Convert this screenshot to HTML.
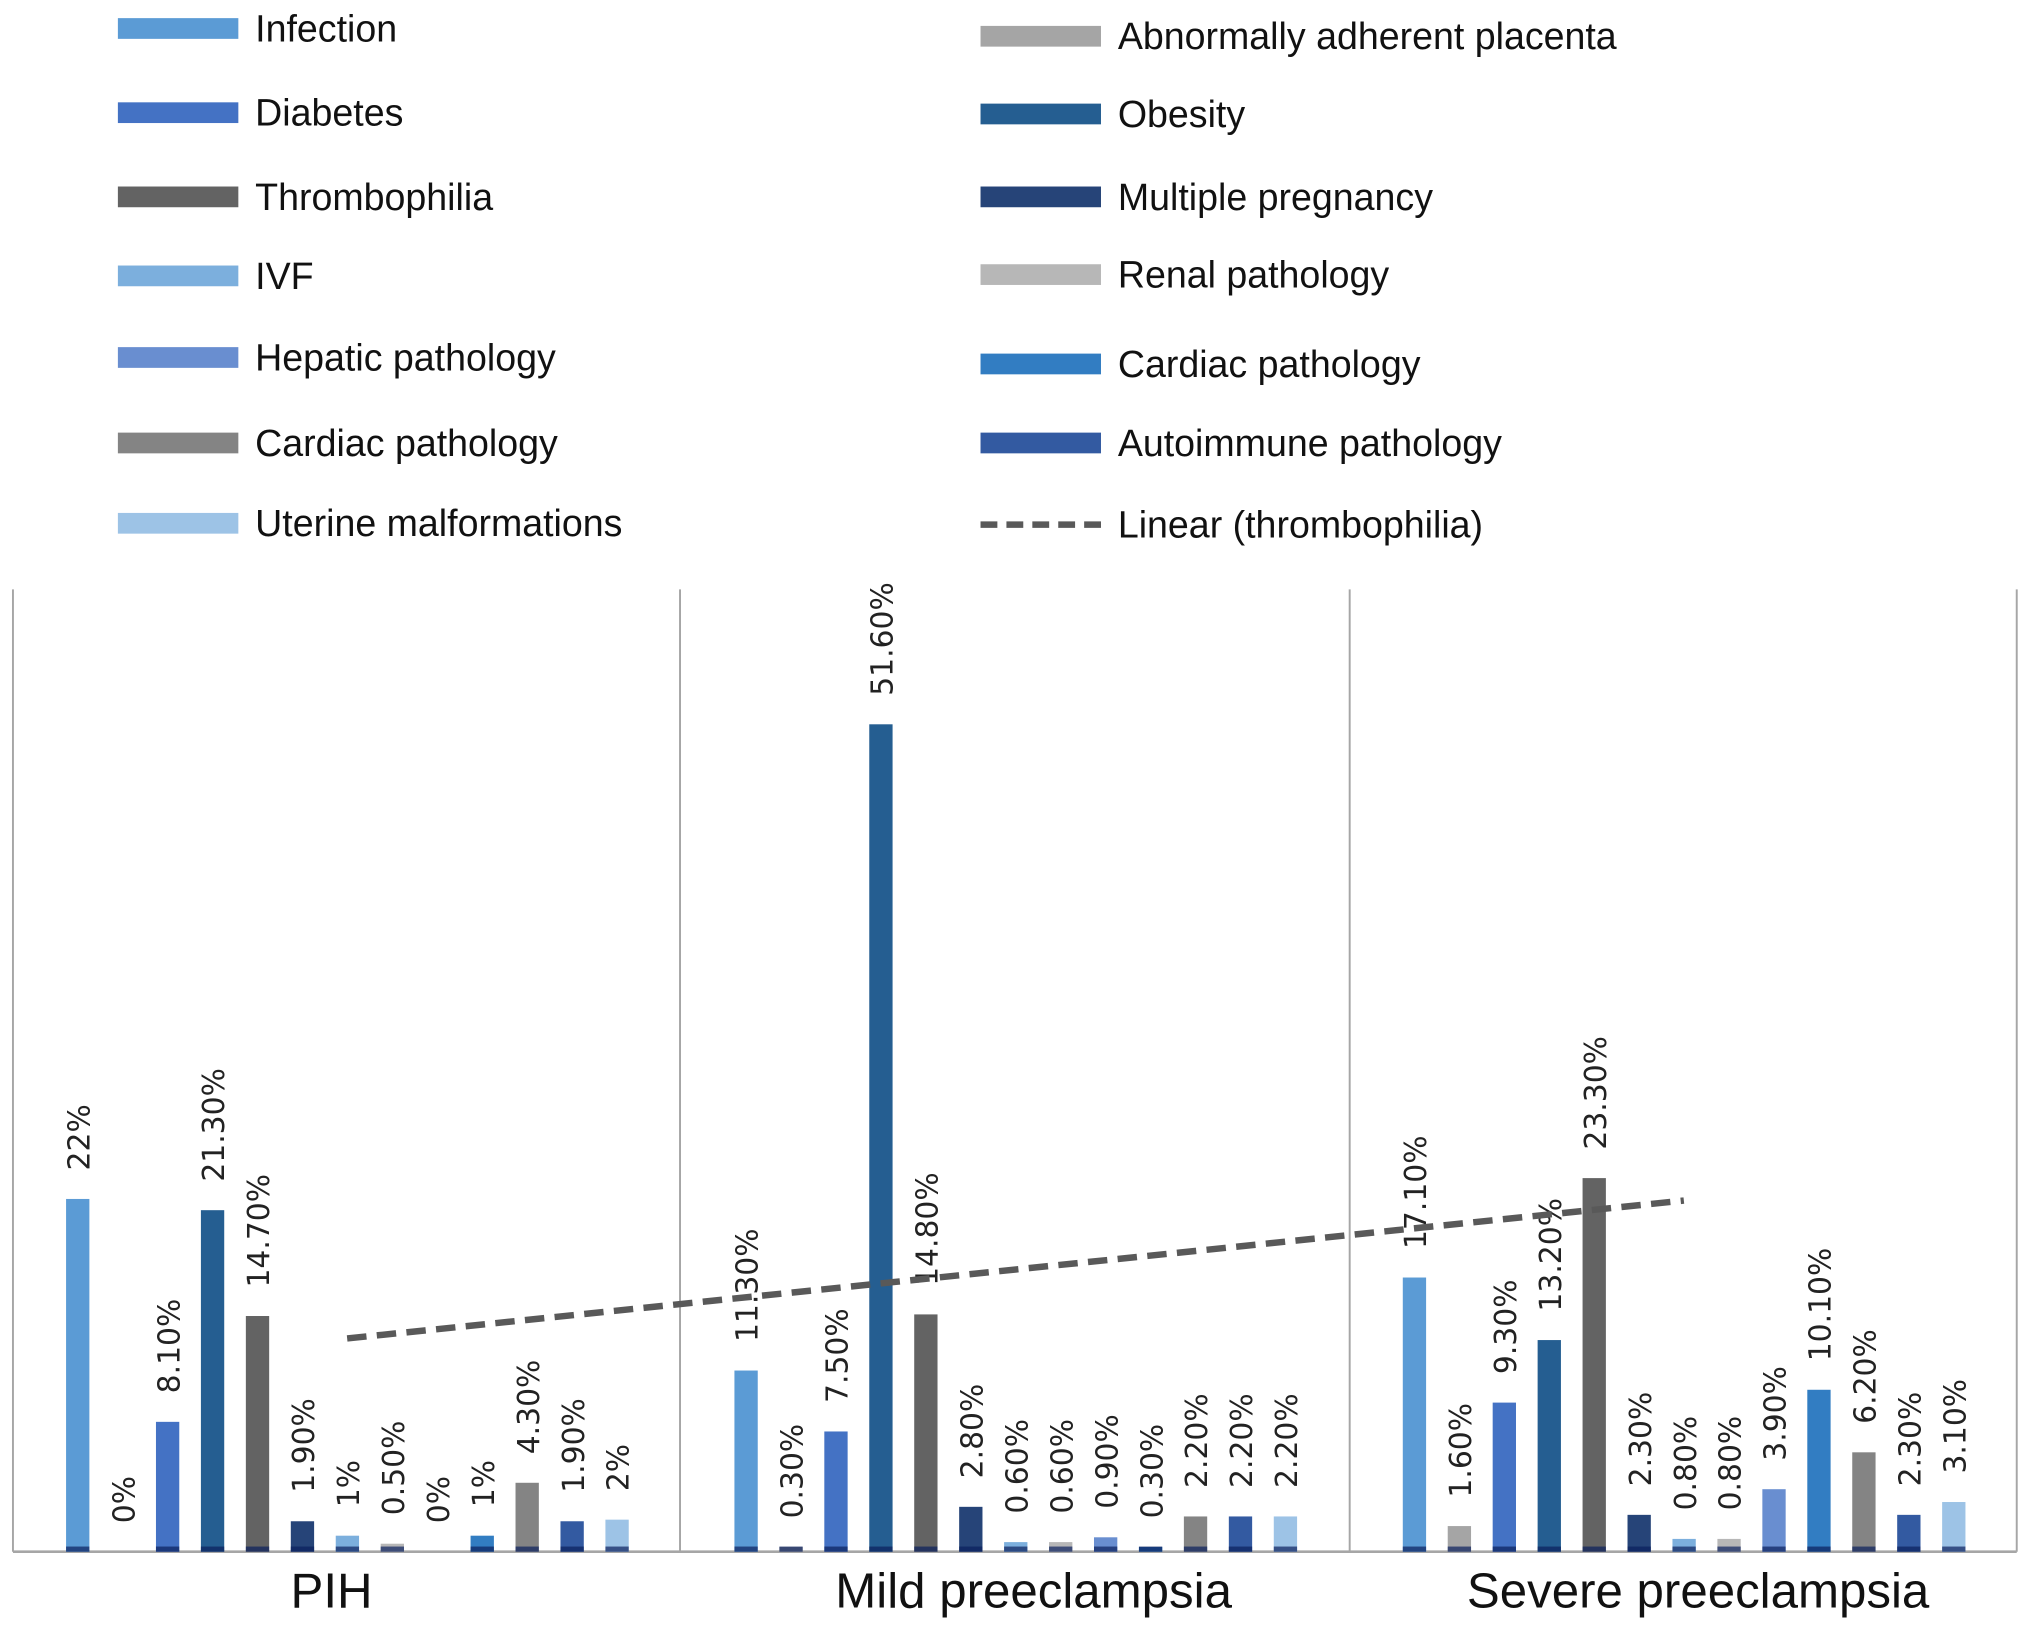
<!DOCTYPE html>
<html><head><meta charset="utf-8"><style>
html,body{margin:0;padding:0;background:#fff;}
svg{display:block;}
</style></head><body>
<svg id="chart" width="2031" height="1631" viewBox="0 0 1568 1259.2" xmlns="http://www.w3.org/2000/svg">
<g id="legend" font-family="Liberation Sans, sans-serif" font-size="29" fill="#111"></g>
<g id="plot"></g>
</svg>
<script>
const categories = ["PIH", "Mild preeclampsia", "Severe preeclampsia"];
const seriesNames = ["Infection","Abnormally adherent placenta","Diabetes","Obesity","Thrombophilia","Multiple pregnancy","IVF","Renal pathology","Hepatic pathology","Cardiac pathology (blue)","Cardiac pathology","Autoimmune pathology","Uterine malformations"];
const seriesColors = ["#5b9bd5","#a5a5a5","#4472c4","#255e91","#636363","#264478","#7cafdd","#b7b7b7","#698ed0","#327dc2","#848484","#335aa1","#9dc3e6"];
const valuesPIH = [22, 0, 8.1, 21.3, 14.7, 1.9, 1, 0.5, 0, 1, 4.3, 1.9, 2];
const valuesMild = [11.3, 0.3, 7.5, 51.6, 14.8, 2.8, 0.6, 0.6, 0.9, 0.3, 2.2, 2.2, 2.2];
const valuesSevere = [17.1, 1.6, 9.3, 13.2, 23.3, 2.3, 0.8, 0.8, 3.9, 10.1, 6.2, 2.3, 3.1];
const labelsPIH = ["22%","0%","8.10%","21.30%","14.70%","1.90%","1%","0.50%","0%","1%","4.30%","1.90%","2%"];
const labelsMild = ["11.30%","0.30%","7.50%","51.60%","14.80%","2.80%","0.60%","0.60%","0.90%","0.30%","2.20%","2.20%","2.20%"];
const labelsSevere = ["17.10%","1.60%","9.30%","13.20%","23.30%","2.30%","0.80%","0.80%","3.90%","10.10%","6.20%","2.30%","3.10%"];
const legendLeft = [["Infection","#5b9bd5"],["Diabetes","#4472c4"],["Thrombophilia","#636363"],["IVF","#7cafdd"],["Hepatic pathology","#698ed0"],["Cardiac pathology","#848484"],["Uterine malformations","#9dc3e6"]];
const legendRight = [["Abnormally adherent placenta","#a5a5a5"],["Obesity","#255e91"],["Multiple pregnancy","#264478"],["Renal pathology","#b7b7b7"],["Cardiac pathology","#327dc2"],["Autoimmune pathology","#335aa1"]];

const NS = "http://www.w3.org/2000/svg";
function mk(tag, attrs, parent){const e=document.createElementNS(NS,tag);for(const k in attrs)e.setAttribute(k,attrs[k]);parent.appendChild(e);return e;}

const lg = document.getElementById('legend');
const leftY = [22,87,152,213,276,342,404];
const rightY = [28,88,152,212,281,342];
legendLeft.forEach((d,i)=>{
  const r = mk('rect',{x:91,y:leftY[i]-8,width:93,height:16,fill:d[1]},lg);
  
  
  const t = mk('text',{x:197,y:leftY[i]+10},lg); t.textContent=d[0];
  
  
});
legendRight.forEach((d,i)=>{
  const r = mk('rect',{x:757,y:rightY[i]-8,width:93,height:16,fill:d[1]},lg);
  
  
  const t = mk('text',{x:863,y:rightY[i]+10},lg); t.textContent=d[0];
  
  
});
const ll = mk('line',{x1:757,y1:405,x2:850,y2:405,stroke:'#595959','stroke-width':5,'stroke-dasharray':'13 7'},lg);


const lt = mk('text',{x:863,y:415},lg); lt.textContent="Linear (thrombophilia)";



const plot = document.getElementById('plot');
const X0=10, GW=516, BASE=1198, PPU=12.38, STEP=34.7, BW=18, FIRST=50;
function yScale(v){return BASE - v*PPU;}
function xBar(g,i){return X0 + g*GW + FIRST + i*STEP;}
function xGroup(g){return X0 + g*GW + GW/2;}
const catOffsets=[-12,14,11];

[10,525,1042,1557].forEach((x,i)=>{
  const l=mk('line',{x1:x,y1:455,x2:x,y2:BASE,stroke:'#a6a6a6','stroke-width':1.5},plot);
  
  
});
const ax=mk('line',{x1:10,y1:BASE,x2:1557,y2:BASE,stroke:'#a6a6a6','stroke-width':2},plot);



const allVals=[valuesPIH,valuesMild,valuesSevere];
const allLabels=[labelsPIH,labelsMild,labelsSevere];
allVals.forEach((vals,g)=>{
  vals.forEach((v,i)=>{
    const cx=xBar(g,i), top=yScale(v);
    if(v>0){
      const b=mk('rect',{x:cx-BW/2,y:top,width:BW,height:BASE-top,fill:seriesColors[i]},plot);
      
      
      const c=mk('rect',{x:cx-BW/2,y:BASE-4,width:BW,height:4,fill:'#0a1f5c',opacity:0.7},plot);
      
      
    }
    const t=mk('text',{x:0,y:0,transform:`translate(${cx+9},${top-22}) rotate(-90)`,'font-family':'DejaVu Sans, sans-serif','font-size':23,fill:'#222'},plot);
    t.textContent=allLabels[g][i];
    
    
  });
  const cl=mk('text',{x:xGroup(g)+catOffsets[g],y:1241,'text-anchor':'middle','font-family':'Liberation Sans, sans-serif','font-size':38,fill:'#111'},plot);
  cl.textContent=categories[g];
  
  
});

const th=allVals.map(v=>v[4]);
const n=th.length, mx=(n-1)/2, my=th.reduce((a,b)=>a+b,0)/n;
let sxy=0,sxx=0; th.forEach((v,i)=>{sxy+=(i-mx)*(v-my);sxx+=(i-mx)*(i-mx);});
const slope=sxy/sxx, icpt=my-slope*mx;
const tl=mk('line',{x1:xGroup(0),y1:yScale(icpt),x2:xGroup(n-1),y2:yScale(icpt+slope*(n-1)),stroke:'#595959','stroke-width':5,'stroke-dasharray':'15 8'},plot);


</script>
</body></html>
